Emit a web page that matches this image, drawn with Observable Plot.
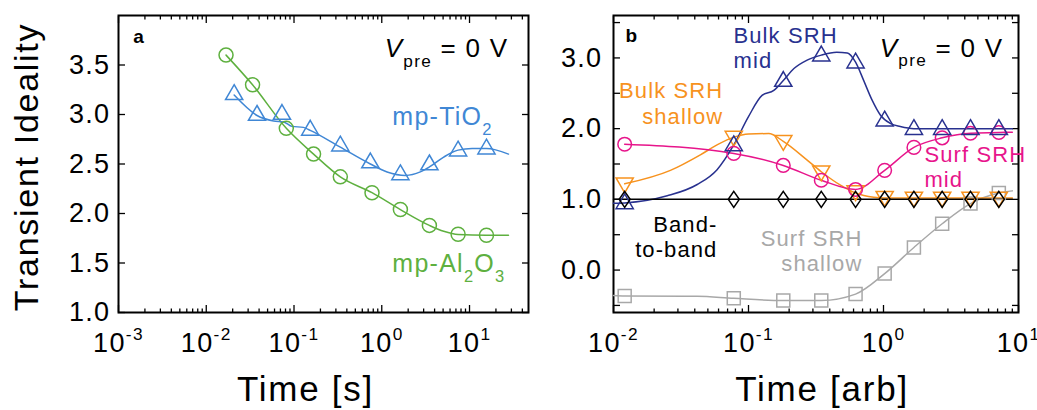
<!DOCTYPE html>
<html><head><meta charset="utf-8">
<script src="https://cdn.jsdelivr.net/npm/d3@7"></script>
<script src="https://cdn.jsdelivr.net/npm/@observablehq/plot@0.6"></script>
<style>
body{margin:0;background:#fff;}
#wrap{position:relative;width:1037px;height:410px;overflow:hidden;background:#fff;}
#wrap svg{position:absolute;top:0;}
#wrap text{font-family:"Liberation Sans",Arial,Helvetica,sans-serif;}
</style></head><body><div id="wrap"></div>
<script>
// ---------- Panel a data ----------
const timeAl = [0.0168, 0.0337, 0.0817, 0.167, 0.337, 0.774, 1.63, 3.49, 7.41, 15.6];
const idealAl = [3.60, 3.30, 2.86, 2.60, 2.37, 2.21, 2.04, 1.88, 1.79, 1.78];
const timeTi = [0.0208, 0.0379, 0.0729, 0.153, 0.337, 0.741, 1.63, 3.49, 7.41, 15.6];
const idealTi = [3.21, 3.00, 3.01, 2.85, 2.69, 2.52, 2.40, 2.50, 2.64, 2.66];
// fitted curves
const curveAlT = [0.0168, 0.0337, 0.0817, 0.167, 0.337, 0.774, 1.63, 3.49, 5.08, 7.41, 15.6, 27.8];
const curveAlV = [3.60, 3.30, 2.86, 2.60, 2.37, 2.21, 2.04, 1.88, 1.82, 1.787, 1.78, 1.78];
const curveTiT = [0.0208, 0.0379, 0.0585, 0.0763, 0.0949, 0.128, 0.153, 0.337, 0.741, 1.15, 1.86, 2.75, 3.49, 5.08, 7.41, 10.7, 15.6, 27.8];
const curveTiV = [3.196, 2.99, 2.935, 2.925, 2.88, 2.87, 2.84, 2.67, 2.50, 2.42, 2.385, 2.42, 2.47, 2.57, 2.64, 2.656, 2.656, 2.60];

// ---------- Panel b data ----------
const timeB = [0.0121, 0.0778, 0.181, 0.346, 0.621, 1.02, 1.68, 2.72, 4.41, 7.15];
const bulkMid = [0.95, 1.77, 2.68, 3.04, 2.94, 2.12, 2.00, 2.00, 2.00, 2.00];
const bulkShallow = [1.22, 1.88, 1.82, 1.39, 1.11, 1.03, 1.02, 1.02, 1.02, 1.02];
const surfMid = [1.78, 1.65, 1.48, 1.27, 1.14, 1.41, 1.735, 1.87, 1.935, 1.945];
const surfShallow = [-0.366, -0.40, -0.43, -0.43, -0.34, -0.05, 0.32, 0.655, 0.94, 1.09];
const bandToBand = [1, 1, 1, 1, 1, 1, 1, 1, 1, 1];
// curves
const bulkMidCurveT = [0.01, 0.0121, 0.025, 0.0417, 0.0585, 0.0778, 0.1, 0.126, 0.154, 0.181, 0.217, 0.272, 0.346, 0.45, 0.54, 0.621, 0.71, 0.82, 0.95, 1.13, 1.33, 1.68, 9.0];
const bulkMidCurveV = [0.945, 0.95, 1.05, 1.21, 1.42, 1.77, 2.17, 2.47, 2.54, 2.68, 2.85, 2.97, 3.04, 3.08, 3.07, 2.94, 2.69, 2.41, 2.19, 2.07, 2.03, 2.0, 2.0];
const bulkShallowCurveT = [0.0121, 0.0264, 0.044, 0.0585, 0.0778, 0.1, 0.141, 0.181, 0.272, 0.346, 0.48, 0.621, 0.847, 1.02, 9.0];
const bulkShallowCurveV = [1.22, 1.41, 1.63, 1.77, 1.88, 1.925, 1.93, 1.82, 1.555, 1.39, 1.20, 1.09, 1.03, 1.02, 1.02];
const surfMidCurveT = [0.0121, 0.0778, 0.181, 0.346, 0.621, 1.02, 1.68, 2.72, 4.41, 7.15, 9.0];
const surfMidCurveV = [1.78, 1.65, 1.48, 1.27, 1.14, 1.41, 1.735, 1.87, 1.935, 1.945, 1.95];
const surfShallowCurveT = [0.01, 0.0121, 0.0417, 0.0778, 0.181, 0.346, 0.621, 1.02, 1.68, 2.72, 4.41, 7.15, 9.0];
const surfShallowCurveV = [-0.36, -0.366, -0.37, -0.40, -0.43, -0.43, -0.34, -0.05, 0.32, 0.655, 0.94, 1.09, 1.12];
const bandCurveT = [0.01, 9.0];
const bandCurveV = [1, 1];

// ---------- ticks ----------
const xMajorA = [1e-3, 1e-2, 1e-1, 1, 10];
const xMajorB = [1e-2, 1e-1, 1, 10];
const yTicksA = [1.0, 1.5, 2.0, 2.5, 3.0, 3.5];
const yLabelsB = [0, 1, 2, 3];
const yTicksB = [-0.5, 0, 0.5, 1, 1.5, 2, 2.5, 3, 3.5];

const GREEN = "#5eb03f", BLUE = "#4087d5", NAVY = "#28318f", ORANGE = "#f7921e", MAGENTA = "#e7158b", GRAY = "#a8a8a8";
const FONT = '"Liberation Sans", Arial, Helvetica, sans-serif';

const zip = (t, v) => t.map((d, i) => ({t: d, v: v[i]}));
const minors = (majors, max) => majors.flatMap(m => [2,3,4,5,6,7,8,9].map(k => m * k)).filter(v => v <= max);
const expFmt = d => `10^{${Math.round(Math.log10(d))}}`;

// custom hollow symbols
const triUp = {draw(c) { c.moveTo(0, -9); c.lineTo(8.6, 5.8); c.lineTo(-8.6, 5.8); c.closePath(); }};
const triDown = {draw(c) { c.moveTo(0, 9); c.lineTo(8.6, -5.8); c.lineTo(-8.6, -5.8); c.closePath(); }};
const square = {draw(c) { c.rect(-6.5, -6.5, 13, 13); }};
const diamond = {draw(c) { c.moveTo(0, -8); c.lineTo(5.5, 0); c.lineTo(0, 8); c.lineTo(-5.5, 0); c.closePath(); }};

function axes(xMajor, xMax, yTicks, yLabels, yPad) {
  const tk = {stroke: "black", strokeWidth: 1.3, label: null, tickFormat: () => ""};
  const xMinor = minors(xMajor, xMax);
  return [
    Plot.axisX(xMajor, {anchor: "bottom", tickSize: -7, ...tk}),
    Plot.axisX(xMinor, {anchor: "bottom", tickSize: -3.5, ...tk}),
    Plot.axisX(xMajor, {anchor: "top", tickSize: -7, ...tk}),
    Plot.axisX(xMinor, {anchor: "top", tickSize: -3.5, ...tk}),
    Plot.axisY(yTicks, {anchor: "left", tickSize: -7, ...tk}),
    Plot.axisY(yTicks, {anchor: "right", tickSize: -7, ...tk}),
    Plot.axisX(xMajor, {anchor: "bottom", tickSize: 0, tickPadding: 20, tickFormat: expFmt, label: null, fontSize: 27, fill: "black"}),
    Plot.axisY(yLabels, {anchor: "left", tickSize: 0, tickPadding: yPad, tickFormat: d3.format(".1f"), label: null, fontSize: 27, fill: "black"}),
    Plot.frame({stroke: "black", strokeWidth: 2})
  ];
}

const pa = Plot.plot({
  width: 545, height: 410,
  marginLeft: 118, marginRight: 17, marginTop: 15, marginBottom: 98,
  x: {type: "log", domain: [1e-3, 47]},
  y: {domain: [1, 4]},
  style: {fontFamily: FONT, background: "transparent"},
  marks: [
    ...axes(xMajorA, 47, yTicksA, yTicksA, 8),
    Plot.line(zip(curveAlT, curveAlV), {x: "t", y: "v", stroke: GREEN, strokeWidth: 1.5, curve: "monotone-x"}),
    Plot.line(zip(curveTiT, curveTiV), {x: "t", y: "v", stroke: BLUE, strokeWidth: 1.5, curve: "monotone-x"}),
    Plot.dot(zip(timeAl, idealAl), {x: "t", y: "v", r: 7, stroke: GREEN, strokeWidth: 1.5, fill: "none"}),
    Plot.dot(zip(timeTi, idealTi), {x: "t", y: "v", symbol: triUp, stroke: BLUE, strokeWidth: 1.5, fill: "none"}),
    Plot.text(["a"], {x: 0.00147, y: 3.72, textAnchor: "start", lineAnchor: "bottom", fontSize: 19, fontWeight: "bold", fill: "black"}),
    Plot.text(["*V*_{pre} = 0 V"], {x: 27.8, y: 3.58, textAnchor: "end", lineAnchor: "bottom", fontSize: 26, fill: "black"}),
    Plot.text(["mp-TiO_{2}"], {x: 1.32, y: 2.89, textAnchor: "start", lineAnchor: "bottom", fontSize: 25, fill: BLUE}),
    Plot.text(["mp-Al_{2}O_{3}"], {x: 1.32, y: 1.405, textAnchor: "start", lineAnchor: "bottom", fontSize: 25, fill: GREEN}),
    Plot.text(["Time [s]"], {frameAnchor: "bottom", textAnchor: "middle", dx: -18, dy: 88, lineAnchor: "bottom", fontSize: 35, fill: "black"}),
    Plot.text(["Transient Ideality"], {frameAnchor: "left", textAnchor: "middle", dx: -91, dy: 3, rotate: -90, lineAnchor: "middle", fontSize: 34, fill: "black"})
  ]
});

const pb = Plot.plot({
  width: 492, height: 410,
  marginLeft: 68, marginRight: 19, marginTop: 15, marginBottom: 98,
  x: {type: "log", domain: [1e-2, 10]},
  y: {domain: [-0.6, 3.6]},
  style: {fontFamily: FONT, background: "transparent"},
  marks: [
    ...axes(xMajorB, 10, yTicksB, yLabelsB, 11),
    Plot.line(zip(surfShallowCurveT, surfShallowCurveV), {x: "t", y: "v", stroke: GRAY, strokeWidth: 1.5, curve: "monotone-x"}),
    Plot.line(zip(bulkShallowCurveT, bulkShallowCurveV), {x: "t", y: "v", stroke: ORANGE, strokeWidth: 1.5, curve: "monotone-x"}),
    Plot.line(zip(surfMidCurveT, surfMidCurveV), {x: "t", y: "v", stroke: MAGENTA, strokeWidth: 1.5, curve: "monotone-x"}),
    Plot.line(zip(bulkMidCurveT, bulkMidCurveV), {x: "t", y: "v", stroke: NAVY, strokeWidth: 1.5, curve: "monotone-x"}),
    Plot.line(zip(bandCurveT, bandCurveV), {x: "t", y: "v", stroke: "black", strokeWidth: 1.5}),
    Plot.dot(zip(timeB, surfShallow), {x: "t", y: "v", symbol: square, stroke: GRAY, strokeWidth: 1.5, fill: "none"}),
    Plot.dot(zip(timeB, bulkShallow), {x: "t", y: "v", symbol: triDown, stroke: ORANGE, strokeWidth: 1.5, fill: "none"}),
    Plot.dot(zip(timeB, surfMid), {x: "t", y: "v", r: 6.8, stroke: MAGENTA, strokeWidth: 1.5, fill: "none"}),
    Plot.dot(zip(timeB, bulkMid), {x: "t", y: "v", symbol: triUp, stroke: NAVY, strokeWidth: 1.5, fill: "none"}),
    Plot.dot(zip(timeB, bandToBand), {x: "t", y: "v", symbol: diamond, stroke: "black", strokeWidth: 1.5, fill: "none"}),
    Plot.text(["b"], {x: 0.01227, y: 3.22, textAnchor: "start", lineAnchor: "bottom", fontSize: 19, fontWeight: "bold", fill: "black"}),
    Plot.text(["*V*_{pre} = 0 V"], {x: 7.74, y: 3.02, textAnchor: "end", lineAnchor: "bottom", fontSize: 26, fill: "black"}),
    Plot.text(["Bulk SRH\nmid"], {x: 0.0774, y: 2.86, textAnchor: "start", lineAnchor: "bottom", lineHeight: 1.15, fontSize: 22, fill: NAVY}),
    Plot.text(["Bulk SRH\nshallow"], {x: 0.065, y: 2.07, textAnchor: "end", lineAnchor: "bottom", lineHeight: 1.15, fontSize: 22, fill: ORANGE}),
    Plot.text(["Surf SRH\nmid"], {x: 2.01, y: 1.175, textAnchor: "start", lineAnchor: "bottom", lineHeight: 1.15, fontSize: 22, fill: MAGENTA}),
    Plot.text(["Band-\nto-band"], {x: 0.0589, y: 0.18, textAnchor: "end", lineAnchor: "bottom", lineHeight: 1.15, fontSize: 22, fill: "black"}),
    Plot.text(["Surf SRH\nshallow"], {x: 0.698, y: -0.02, textAnchor: "end", lineAnchor: "bottom", lineHeight: 1.15, fontSize: 22, fill: GRAY}),
    Plot.text(["Time [arb]"], {frameAnchor: "bottom", textAnchor: "middle", dx: 6, dy: 88, lineAnchor: "bottom", fontSize: 35, fill: "black"})
  ]
});

// rich text: *italic*, _{sub}, ^{sup}; plus letter spacing
function richText(svg) {
  svg.querySelectorAll("text").forEach(el => {
    const g = el.closest("[font-size]");
    const f = g ? parseFloat(g.getAttribute("font-size")) : 24;
    el.style.letterSpacing = (f * 0.05).toFixed(2) + "px";
    if (el.children.length) return;
    const s = el.textContent;
    if (!/[_^]\{|\*/.test(s)) return;
    const parts = s.split(/(\*[^*]+\*|_\{[^}]*\}|\^\{[^}]*\})/).filter(p => p);
    el.textContent = "";
    let shift = 0;
    for (const p of parts) {
      const ts = document.createElementNS("http://www.w3.org/2000/svg", "tspan");
      let target = 0, txt = p, size = null, italic = false;
      if (p.startsWith("_{")) { target = f * 0.38; txt = p.slice(2, -1); size = f * 0.66; }
      else if (p.startsWith("^{")) { target = -f * 0.42; txt = p.slice(2, -1); size = f * 0.64; }
      else if (p.length > 2 && p.startsWith("*") && p.endsWith("*")) { txt = p.slice(1, -1); italic = true; }
      if (target !== shift) { ts.setAttribute("dy", (target - shift).toFixed(2)); shift = target; }
      if (size) ts.setAttribute("font-size", size.toFixed(2));
      if (italic) ts.setAttribute("font-style", "italic");
      ts.textContent = txt;
      el.appendChild(ts);
    }
  });
}
richText(pa); richText(pb);
pa.style.left = "0px";
pb.style.left = "545px";
const wrap = document.getElementById("wrap");
wrap.appendChild(pa);
wrap.appendChild(pb);
</script>
</body></html>
